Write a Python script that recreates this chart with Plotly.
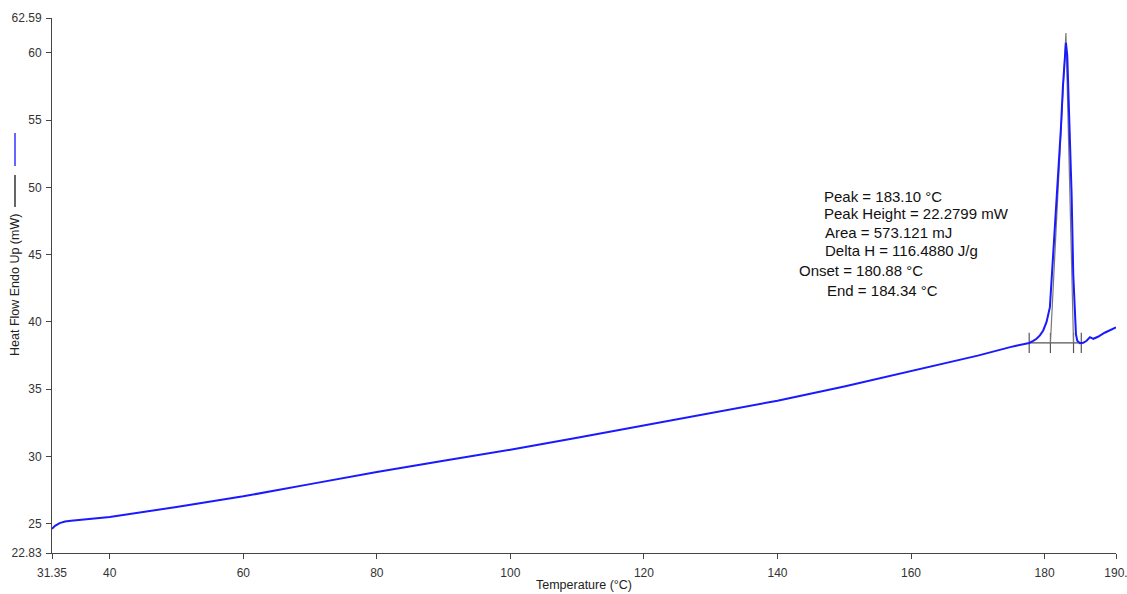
import plotly.graph_objects as go

# ---------------- data ----------------
temperature = [31.35, 31.8, 32.5, 33.3, 34.2, 35.5, 37.5, 40, 50, 60, 70, 80, 90, 100, 110, 120,
               130, 140, 150, 160, 165, 170, 175, 177.7, 178.3, 178.8, 179.3, 179.8, 180.3, 180.8,
               181.3, 181.7, 182.1, 182.45, 182.75, 183.0, 183.2, 183.4, 183.55, 183.8, 184.05,
               184.3, 184.5, 184.7, 184.9, 185.3, 185.8, 186.3, 186.8, 187.3, 188.0, 189.0, 190.7]
heat_flow = [24.63, 24.85, 25.05, 25.17, 25.22, 25.28, 25.37, 25.5, 26.25, 27.04, 27.95, 28.85, 29.68,
             30.5, 31.4, 32.3, 33.2, 34.15, 35.2, 36.34, 36.9, 37.5, 38.15, 38.44, 38.6, 38.75, 39.0,
             39.37, 40.0, 41.1, 45.1, 48.2, 51.3, 54.4, 57.5, 59.7, 60.74, 59.8, 57.5, 53.8, 49.5,
             43.5, 40.5, 39.1, 38.6, 38.42, 38.45, 38.6, 38.87, 38.75, 38.9, 39.2, 39.6]

baseline_temps = [177.7, 185.5]
baseline_level = 38.44
marker_temps = [177.7, 180.88, 184.34, 185.5]
marker_half = 0.75
apex_temp = 183.2
apex_level = 61.48
onset_temp = 180.88
end_temp = 184.34

x_range = [31.35, 190.7]
y_range = [22.83, 62.59]
x_tickvals = [31.35, 40, 60, 80, 100, 120, 140, 160, 180, 190.7]
x_ticktext = ["31.35", "40", "60", "80", "100", "120", "140", "160", "180", "190."]
y_tickvals = [22.83, 25, 30, 35, 40, 45, 50, 55, 60, 62.59]
y_ticktext = ["22.83", "25", "30", "35", "40", "45", "50", "55", "60", "62.59"]

stats_text = ["Peak = 183.10 °C", "Peak Height = 22.2799 mW", "Area = 573.121 mJ",
              "Delta H = 116.4880 J/g", "Onset = 180.88 °C", "End = 184.34 °C"]

# ---------------- layout geometry ----------------
W, H = 1127, 594
ML, MR, MT, MB = 52, 11, 18, 41
PW = W - ML - MR
PH = H - MT - MB


def px_x(px):
    return (px - ML) / PW


def px_y(py):
    return (H - MB - py) / PH


fig = go.Figure()
construct = dict(color="#555555", width=1.2)

# baseline
fig.add_trace(go.Scatter(x=baseline_temps, y=[baseline_level] * len(baseline_temps),
                         mode="lines", line=construct, hoverinfo="skip", showlegend=False))
# vertical markers
for t in marker_temps:
    fig.add_trace(go.Scatter(x=[t, t], y=[baseline_level - marker_half, baseline_level + marker_half],
                             mode="lines", line=construct, hoverinfo="skip", showlegend=False))
# tangent lines
fig.add_trace(go.Scatter(x=[onset_temp, apex_temp, end_temp],
                         y=[baseline_level, apex_level, baseline_level],
                         mode="lines", line=dict(color="#777777", width=1.2),
                         hoverinfo="skip", showlegend=False))
# DSC curve
fig.add_trace(go.Scatter(x=temperature, y=heat_flow, mode="lines",
                         line=dict(color="#1a1aff", width=2), showlegend=False))

txt_font = dict(family="Liberation Sans, Arial, sans-serif", size=15, color="#111111")
positions = [(822, 196), (822, 213), (823, 232), (823, 250), (797, 270), (825, 290)]
annotations = []
for s, (px, py) in zip(stats_text, positions):
    annotations.append(dict(text=s, xref="paper", yref="paper", x=px_x(px), y=px_y(py),
                            xanchor="left", yanchor="middle", showarrow=False, font=txt_font))

# y-axis title (rotated)
annotations.append(dict(text="Heat Flow Endo Up (mW)", xref="paper", yref="paper",
                        x=px_x(15), y=px_y(285), xanchor="center", yanchor="middle",
                        textangle=-90, showarrow=False,
                        font=dict(family="Liberation Sans, Arial, sans-serif", size=12.5, color="#222222")))

shapes = [
    dict(type="line", xref="paper", yref="paper", x0=px_x(15), x1=px_x(15),
         y0=px_y(207), y1=px_y(175), line=dict(color="#333333", width=1.5)),
    dict(type="line", xref="paper", yref="paper", x0=px_x(15), x1=px_x(15),
         y0=px_y(166), y1=px_y(133), line=dict(color="#3333ff", width=1.5)),
]

axis_common = dict(showgrid=False, zeroline=False, showline=True, linecolor="#444444",
                   linewidth=1, ticks="outside", ticklen=5, tickcolor="#444444", automargin=False,
                   ticklabeloverflow="allow",
                   tickfont=dict(family="Liberation Sans, Arial, sans-serif", size=12, color="#333333"))

fig.update_layout(
    width=W, height=H,
    margin=dict(l=ML, r=MR, t=MT, b=MB, autoexpand=False),
    plot_bgcolor="white", paper_bgcolor="white",
    xaxis=dict(range=x_range, tickmode="array", tickvals=x_tickvals, ticktext=x_ticktext,
               ticklabelstandoff=4,
               title=dict(text="Temperature (°C)", standoff=0,
                          font=dict(family="Liberation Sans, Arial, sans-serif", size=12.5, color="#222222")),
               **axis_common),
    yaxis=dict(range=y_range, tickmode="array", tickvals=y_tickvals, ticktext=y_ticktext,
               ticklabelstandoff=2, **axis_common),
    annotations=annotations,
    shapes=shapes,
)

fig.write_html("out.html", config={"displayModeBar": False},
               post_script="document.body.style.margin='0';document.body.style.overflow='hidden';")
